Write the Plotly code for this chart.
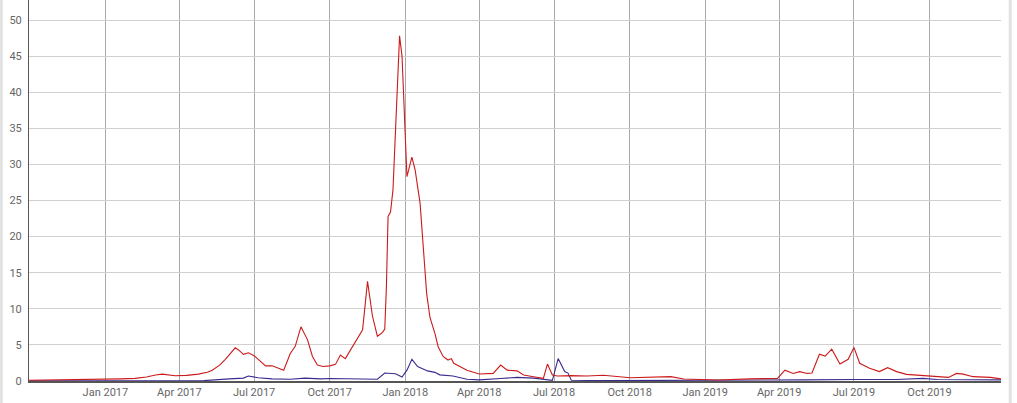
import plotly.graph_objects as go

red_dates = ["2016-09-30","2016-10-20","2016-11-15","2016-12-10","2017-01-01","2017-01-20","2017-02-06","2017-02-20",
"2017-03-03","2017-03-11","2017-03-27","2017-04-10","2017-04-24","2017-05-05","2017-05-11","2017-05-20","2017-05-27",
"2017-06-02","2017-06-08","2017-06-12","2017-06-18","2017-06-24","2017-07-01","2017-07-06","2017-07-11","2017-07-15",
"2017-07-23","2017-07-30","2017-08-06","2017-08-14","2017-08-20","2017-08-27","2017-09-04","2017-09-10","2017-09-16",
"2017-09-23","2017-10-01","2017-10-08","2017-10-14","2017-10-20","2017-10-26","2017-11-04","2017-11-10","2017-11-16",
"2017-11-22","2017-11-28","2017-12-04","2017-12-07","2017-12-09","2017-12-11","2017-12-14","2017-12-17","2017-12-20",
"2017-12-25","2017-12-28","2017-12-31","2018-01-03","2018-01-09","2018-01-13","2018-01-19","2018-01-23","2018-01-27",
"2018-01-31","2018-02-06","2018-02-10","2018-02-16","2018-02-22","2018-02-26","2018-03-01","2018-03-09","2018-03-17",
"2018-04-01","2018-04-18","2018-04-27","2018-05-05","2018-05-17","2018-05-25","2018-06-06","2018-06-18","2018-06-23",
"2018-06-29","2018-07-05","2018-07-22","2018-08-10","2018-08-30","2018-10-02","2018-11-20","2018-12-06","2019-01-16",
"2019-02-25","2019-03-30","2019-04-08","2019-04-18","2019-04-26","2019-05-05","2019-05-11","2019-05-20","2019-05-27",
"2019-06-04","2019-06-14","2019-06-24","2019-07-01","2019-07-08","2019-07-20","2019-08-01","2019-08-11","2019-08-22",
"2019-09-03","2019-09-23","2019-10-10","2019-10-24","2019-11-03","2019-11-11","2019-11-23","2019-12-14","2019-12-27"]
red_values = [0.1,0.12,0.18,0.2,0.22,0.3,0.37,0.55,
0.83,0.95,0.72,0.78,0.95,1.2,1.5,2.2,3.0,
3.8,4.6,4.3,3.7,3.9,3.5,3.0,2.5,2.1,
2.1,1.8,1.5,3.8,4.8,7.5,5.7,3.4,2.2,
2.0,2.1,2.3,3.6,3.1,4.3,5.9,7.1,13.8,
9.0,6.2,6.7,7.2,13.1,22.8,23.4,26.5,33.8,
47.8,45.0,36.1,28.3,31.0,29.2,24.6,18.6,12.1,
8.8,6.6,4.75,3.4,2.9,3.1,2.45,2.0,1.5,
0.97,1.05,2.2,1.5,1.4,0.83,0.6,0.37,2.35,
0.83,0.7,0.75,0.7,0.8,0.46,0.6,0.28,0.14,
0.3,0.37,1.5,1.05,1.3,1.05,1.1,3.7,3.45,
4.4,2.35,3.0,4.65,2.45,1.75,1.3,1.85,1.3,
0.92,0.73,0.6,0.5,1.05,0.95,0.6,0.5,0.3]

purple_dates = ["2016-09-30","2017-05-01","2017-06-01","2017-06-18","2017-06-24","2017-07-06","2017-07-23","2017-08-14",
"2017-09-01","2017-09-20","2017-10-01","2017-10-20","2017-11-10","2017-11-28","2017-12-07","2017-12-20","2017-12-28",
"2018-01-03","2018-01-09","2018-01-16","2018-01-28","2018-02-06","2018-02-12","2018-02-28","2018-03-17","2018-04-01",
"2018-04-27","2018-05-17","2018-06-06","2018-06-23","2018-06-29","2018-07-06","2018-07-14","2018-07-18","2018-07-22",
"2018-09-01","2019-04-01","2019-05-01","2019-07-01","2019-08-22","2019-09-23","2019-10-10","2019-12-27"]
purple_values = [0.02,0.05,0.3,0.4,0.7,0.45,0.3,0.25,
0.4,0.3,0.35,0.3,0.2,0.25,1.1,1.0,0.55,
1.5,3.0,2.0,1.4,1.2,0.85,0.7,0.25,0.15,
0.35,0.5,0.4,0.25,0.1,3.1,1.3,1.1,0.1,
0.05,0.05,0.15,0.2,0.2,0.37,0.2,0.15]

y_ticks = [0, 5, 10, 15, 20, 25, 30, 35, 40, 45, 50]
x_ticks = ["2017-01-01","2017-04-01","2017-07-01","2017-10-01","2018-01-01","2018-04-01","2018-07-01",
           "2018-10-01","2019-01-01","2019-04-01","2019-07-01","2019-10-01"]
x_tick_labels = ["Jan 2017","Apr 2017","Jul 2017","Oct 2017","Jan 2018","Apr 2018","Jul 2018",
                 "Oct 2018","Jan 2019","Apr 2019","Jul 2019","Oct 2019"]

fig = go.Figure()
fig.add_trace(go.Scatter(x=purple_dates, y=purple_values, mode="lines",
                         line=dict(color="#3b2a8f", width=1.1), showlegend=False))
fig.add_trace(go.Scatter(x=red_dates, y=red_values, mode="lines",
                         line=dict(color="#cc1a1a", width=1.1), showlegend=False))

fig.update_layout(
    width=1017, height=403,
    margin=dict(l=29, r=16, t=0, b=22),
    paper_bgcolor="white", plot_bgcolor="white",
    font=dict(family="Roboto", size=11, color="#666666"),
    xaxis=dict(type="date", range=["2016-09-30", "2019-12-27"], tickvals=x_ticks, ticktext=x_tick_labels,
               showgrid=True, gridcolor="#a8a8a8", gridwidth=1, automargin=False,
               showline=True, linecolor="#555555", linewidth=1.5, ticks="", zeroline=False),
    yaxis=dict(range=[0, 52.77], tickvals=y_ticks, showgrid=True, gridcolor="#d0d0d0", gridwidth=1,
               showline=True, linecolor="#555555", linewidth=1, ticks="", zeroline=False,
               ticklabelstandoff=4, automargin=False),
    shapes=[
        dict(type="line", xref="paper", yref="paper", x0=1.0095, x1=1.0095, y0=-0.06, y1=1.0,
             line=dict(color="#e2e2e2", width=3)),
        dict(type="line", xref="paper", yref="paper", x0=-0.0285, x1=-0.0285, y0=-0.06, y1=1.0,
             line=dict(color="#e2e2e2", width=3)),
    ],
)

fig.write_html("out.html", config={"displayModeBar": False},
               post_script="document.body.style.margin='0';document.body.style.padding='0';")
